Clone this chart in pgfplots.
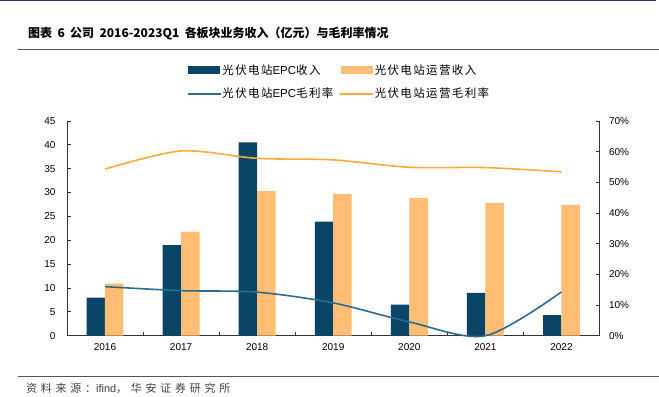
\documentclass[border=0pt]{standalone}
\usepackage{fontspec}
\setmainfont{Liberation Sans}
\newfontfamily\cjk{Noto Sans CJK SC}
\newfontfamily\cjkleg{Noto Sans CJK SC}[LetterSpace=12]
\newfontfamily\cjksrc{Noto Sans CJK SC}[LetterSpace=34]
\usepackage{pgfplots}
\pgfplotsset{compat=1.18}
\definecolor{epc}{HTML}{0A4466}
\definecolor{ops}{HTML}{FFBE73}
\definecolor{epcl}{HTML}{2A6B8F}
\definecolor{opsl}{HTML}{FFA93B}
\definecolor{navy}{HTML}{1F3A6E}
\definecolor{rule}{HTML}{555555}
\pgfplotsset{
  barleg/.style={legend image code/.code={\fill[##1] (0pt,-4pt) rectangle (32pt,4pt);}},
  lineleg/.style={legend image code/.code={\fill[##1] (0pt,-0.85pt) rectangle (32pt,0.85pt);}}
}
\begin{document}
\begin{tikzpicture}[x=1pt,y=1pt]
\path (0,0) rectangle (659,397);
\fill[navy] (0,395.5) rectangle (656,397);
\node[anchor=base west, inner sep=0, font=\fontsize{12}{14}\selectfont\bfseries] at (28,359) {\cjk 图表\hspace{0.45em}6\hspace{0.45em}公司\hspace{0.45em}2016-2023Q1\hspace{0.45em}各板块业务收入（亿元）与毛利率情况};
\draw[line width=1pt, rule] (18,347) -- (659,347);
\draw[line width=1pt, rule] (18,20) -- (659,20);
\node[anchor=base west, inner sep=0, font=\fontsize{11}{12}\selectfont, text=black!75] at (26,4) {{\cjksrc 资料来源：}ifind{\cjksrc ，华安证券研究所}};

\begin{axis}[at={(67pt,61pt)}, anchor=south west, scale only axis, width=533pt, height=215pt,
  xmin=-0.5, xmax=6.5, ymin=0, ymax=45, ytick={0,5,...,45},
  xtick={0,...,6}, xticklabels={2016,2017,2018,2019,2020,2021,2022},
  minor xtick={0.5,1.5,...,5.5},
  axis x line=bottom, axis y line=left,
  axis line style={-, black!80, line width=0.8pt},
  tick align=inside, major tick length=4pt, minor tick length=4pt,
  tick style={black!80, line width=0.8pt},
  major x tick style={draw=none},
  ticklabel style={font=\fontsize{10}{12}\selectfont},
  yticklabel style={xshift=-8pt},
  xticklabel style={yshift=-4pt},
  /pgf/number format/assume math mode=true,
  legend columns=2, legend cell align=left,
  legend style={at={(0.512,1.181)}, anchor=center, draw=none, fill=none,
    font=\fontsize{11.5}{13}\selectfont,
    /tikz/every even column/.append style={column sep=5pt}, row sep=8pt},
  clip=false]
\addplot[ybar, bar width=18.5pt, bar shift=-9.25pt, fill=epc, draw=none, barleg]
  coordinates {(0,8.0) (1,19.0) (2,40.5) (3,23.9) (4,6.5) (5,9.0) (6,4.3)};
\addlegendentry{{\cjkleg 光伏电站}EPC{\cjkleg 收入}}
\addplot[ybar, bar width=18.5pt, bar shift=9.25pt, fill=ops, draw=none, barleg]
  coordinates {(0,10.9) (1,21.8) (2,30.3) (3,29.7) (4,28.9) (5,27.8) (6,27.4)};
\addlegendentry{{\cjkleg 光伏电站运营收入}}
\addlegendimage{color=epcl, fill=epcl, lineleg}
\addlegendentry{{\cjkleg 光伏电站}EPC{\cjkleg 毛利率}}
\addlegendimage{color=opsl, fill=opsl, lineleg}
\addlegendentry{{\cjkleg 光伏电站运营毛利率}}
\end{axis}

\begin{axis}[at={(67pt,61pt)}, anchor=south west, scale only axis, width=533pt, height=215pt,
  xmin=-0.5, xmax=6.5, ymin=0, ymax=70, ytick={0,10,...,70},
  yticklabel={\pgfmathprintnumber{\tick}\%},
  axis y line=right, axis x line=none,
  axis line style={-, black!80, line width=0.8pt},
  tick align=inside, major tick length=4pt,
  tick style={black!80, line width=0.8pt},
  ticklabel style={font=\fontsize{10}{12}\selectfont},
  yticklabel style={xshift=6pt},
  /pgf/number format/assume math mode=true,
  clip=false]
\addplot[smooth, color=epcl, line width=1.6pt] coordinates {(0,16.0) (1,14.7) (2,14.2) (3,10.7) (4,4.5) (5,0) (6,14.3)};
\addplot[smooth, color=opsl, line width=1.6pt] coordinates {(0,54.3) (1,60.2) (2,57.8) (3,57.3) (4,54.9) (5,54.8) (6,53.4)};
\end{axis}
\end{tikzpicture}
\end{document}
